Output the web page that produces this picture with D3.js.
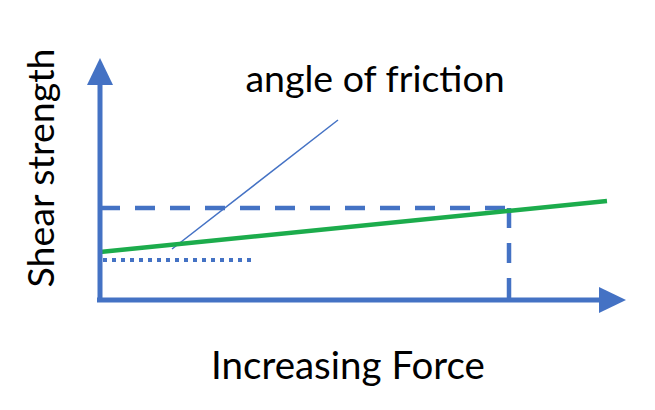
<!DOCTYPE html>
<html>
<head>
<meta charset="utf-8">
<script src="https://cdn.jsdelivr.net/npm/d3@7"></script>
<style>
  body { margin: 0; background: #fff; }
  text { font-family: Lato, "Open Sans", sans-serif; fill: #000; }
</style>
</head>
<body>
<svg id="chart" width="655" height="410"></svg>
<script>
// data (chart units)
var axisOrigin = [0, 0];
var xAxisEnd = 10.52;
var yAxisEnd = 9.68;
var strengthLine = [[0, 1.92], [10.14, 3.96]];
var peakDashH = [[0, 3.68], [8.18, 3.68]];
var peakDashV = [[8.18, 3.68], [8.18, 0.08]];
var cohesionDots = [[0.06, 1.6], [3.12, 1.6]];
var pointerLine = [[1.44, 2.04], [4.76, 7.2]];
var labels = { x: "Increasing Force", y: "Shear strength", note: "angle of friction" };

var svg = d3.select("#chart");
var blue = "#4472c4", green = "#1cac4c";

var x = d3.scaleLinear().domain([0, 10]).range([100, 600]);
var y = d3.scaleLinear().domain([0, 10]).range([300, 50]);

var line = d3.line()
  .x(function(d) { return x(d[0]); })
  .y(function(d) { return y(d[1]); });

// dashed guides
svg.append("path").datum(peakDashH)
  .attr("d", line).attr("stroke", blue).attr("stroke-width", 4.5)
  .attr("stroke-dasharray", "20,15").attr("fill", "none");
svg.append("path").datum(peakDashV)
  .attr("d", line).attr("stroke", blue).attr("stroke-width", 4.5)
  .attr("stroke-dasharray", "20,15").attr("fill", "none");

// dotted cohesion line
svg.append("path").datum(cohesionDots)
  .attr("d", line).attr("stroke", blue).attr("stroke-width", 4)
  .attr("stroke-dasharray", "4,5").attr("fill", "none");

// pointer
svg.append("path").datum(pointerLine)
  .attr("d", line).attr("stroke", blue).attr("stroke-width", 1.5).attr("fill", "none");

// strength line
svg.append("path").datum(strengthLine)
  .attr("d", line).attr("stroke", green).attr("stroke-width", 4.5).attr("fill", "none");

// axes with arrows
svg.append("line")
  .attr("x1", x(axisOrigin[0]) - 3).attr("y1", y(axisOrigin[1]))
  .attr("x2", x(xAxisEnd) - 24).attr("y2", y(axisOrigin[1]))
  .attr("stroke", blue).attr("stroke-width", 5);
svg.append("line")
  .attr("x1", x(axisOrigin[0])).attr("y1", y(axisOrigin[1]) + 2)
  .attr("x2", x(axisOrigin[0])).attr("y2", y(yAxisEnd) + 24)
  .attr("stroke", blue).attr("stroke-width", 5);

var xt = x(xAxisEnd), yt = y(yAxisEnd), ox = x(0), oy = y(0);
svg.append("path")
  .attr("d", "M" + xt + "," + oy + "L" + (xt - 27) + "," + (oy - 13) + "L" + (xt - 27) + "," + (oy + 13) + "Z")
  .attr("fill", blue);
svg.append("path")
  .attr("d", "M" + ox + "," + yt + "L" + (ox - 13) + "," + (yt + 27) + "L" + (ox + 13) + "," + (yt + 27) + "Z")
  .attr("fill", blue);

// labels
svg.append("text").attr("x", 348).attr("y", 379)
  .attr("text-anchor", "middle").attr("font-size", 38.5).text(labels.x);
svg.append("text").attr("transform", "translate(54,168) rotate(-90)")
  .attr("text-anchor", "middle").attr("font-size", 37.5).text(labels.y);
svg.append("text").attr("x", 375).attr("y", 92)
  .attr("text-anchor", "middle").attr("font-size", 37.5).text(labels.note);
</script>
</body>
</html>
